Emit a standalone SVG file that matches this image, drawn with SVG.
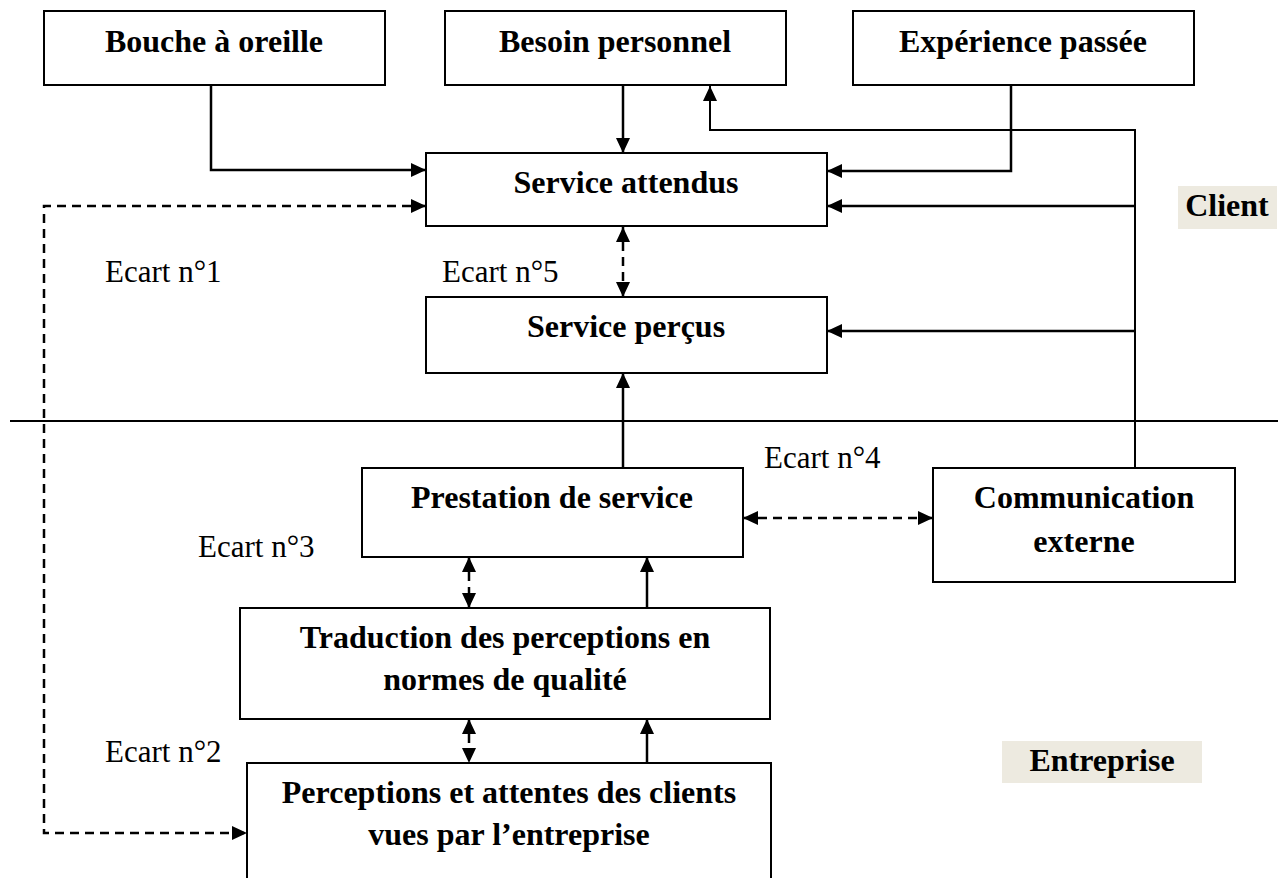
<svg xmlns="http://www.w3.org/2000/svg" width="1284" height="878" viewBox="0 0 1284 878">
<style>
.box{fill:#fff;stroke:#000;stroke-width:2}
.t{font-family:"Liberation Serif","Times New Roman",serif;font-weight:bold;font-size:32px;fill:#000;text-anchor:middle}
.e{font-family:"Liberation Serif","Times New Roman",serif;font-size:31px;fill:#000}
.ln{fill:none;stroke:#000;stroke-width:2}
.ar{fill:none;stroke:#000;stroke-width:2.5}
.d{fill:none;stroke:#000;stroke-width:2.5;stroke-dasharray:9,6}
.lbl{fill:#edeae0}
</style>
<defs>
<marker id="ah" markerUnits="userSpaceOnUse" markerWidth="16" markerHeight="14" refX="15" refY="7" orient="auto">
<path d="M0,0 L15,7 L0,14 Z" fill="#000"/>
</marker>
<marker id="ahs" markerUnits="userSpaceOnUse" markerWidth="16" markerHeight="14" refX="15" refY="7" orient="auto-start-reverse">
<path d="M0,0 L15,7 L0,14 Z" fill="#000"/>
</marker>
</defs>
<rect width="1284" height="878" fill="#fff"/>
<g id="connectors">
<line class="ln" x1="10" y1="421" x2="1278" y2="421"/>
<polyline class="ar" points="211,85 211,170 426,170" marker-end="url(#ah)"/>
<line class="ar" x1="623" y1="85" x2="623" y2="153" marker-end="url(#ah)"/>
<polyline class="ar" points="1011,85 1011,171 827,171" marker-end="url(#ah)"/>
<polyline class="ln" points="1135,468 1135,130 710,130 710,86" marker-end="url(#ah)"/>
<line class="ar" x1="1135" y1="206" x2="827" y2="206" marker-end="url(#ah)"/>
<line class="ar" x1="1135" y1="331" x2="827" y2="331" marker-end="url(#ah)"/>
<line class="d" x1="623" y1="227" x2="623" y2="297" marker-start="url(#ahs)" marker-end="url(#ahs)"/>
<line class="ar" x1="623" y1="468" x2="623" y2="373" marker-end="url(#ah)"/>
<line class="d" x1="743" y1="518" x2="933" y2="518" marker-start="url(#ahs)" marker-end="url(#ahs)"/>
<line class="d" x1="469" y1="557" x2="469" y2="608" marker-start="url(#ahs)" marker-end="url(#ahs)"/>
<line class="ar" x1="647" y1="608" x2="647" y2="557" marker-end="url(#ah)"/>
<line class="d" x1="469" y1="719" x2="469" y2="763" marker-start="url(#ahs)" marker-end="url(#ahs)"/>
<line class="ar" x1="647" y1="763" x2="647" y2="719" marker-end="url(#ah)"/>
<polyline class="d" points="426,206 44,206 44,833 247,833" marker-start="url(#ahs)" marker-end="url(#ah)"/>
</g>
<g id="bouche"><rect class="box" x="44" y="11" width="341" height="74"/><text class="t" x="214" y="52">Bouche à oreille</text></g>
<g id="besoin"><rect class="box" x="445" y="11" width="341" height="74"/><text class="t" x="615" y="52">Besoin personnel</text></g>
<g id="experience"><rect class="box" x="853" y="11" width="341" height="74"/><text class="t" x="1023" y="52">Expérience passée</text></g>
<g id="attendus"><rect class="box" x="426" y="153" width="401" height="73"/><text class="t" x="626" y="193">Service attendus</text></g>
<g id="percus"><rect class="box" x="426" y="297" width="401" height="76"/><text class="t" x="626" y="337">Service perçus</text></g>
<g id="prestation"><rect class="box" x="362" y="468" width="381" height="89"/><text class="t" x="552" y="508">Prestation de service</text></g>
<g id="communication"><rect class="box" x="933" y="468" width="302" height="114"/><text class="t" x="1084" y="508">Communication</text><text class="t" x="1084" y="552">externe</text></g>
<g id="traduction"><rect class="box" x="240" y="608" width="530" height="111"/><text class="t" x="505" y="648">Traduction des perceptions en</text><text class="t" x="505" y="690">normes de qualité</text></g>
<g id="perceptions"><rect class="box" x="247" y="763" width="524" height="130"/><text class="t" x="509" y="803">Perceptions et attentes des clients</text><text class="t" x="509" y="845">vues par l’entreprise</text></g>
<g id="client"><rect class="lbl" x="1178" y="186" width="99" height="43"/><text class="t" x="1227" y="216">Client</text></g>
<g id="entreprise"><rect class="lbl" x="1002" y="741" width="200" height="42"/><text class="t" x="1102" y="771">Entreprise</text></g>
<g id="labels">
<text class="e" x="105" y="282">Ecart n°1</text>
<text class="e" x="442" y="282">Ecart n°5</text>
<text class="e" x="764" y="468">Ecart n°4</text>
<text class="e" x="198" y="557">Ecart n°3</text>
<text class="e" x="105" y="762">Ecart n°2</text>
</g>
</svg>
